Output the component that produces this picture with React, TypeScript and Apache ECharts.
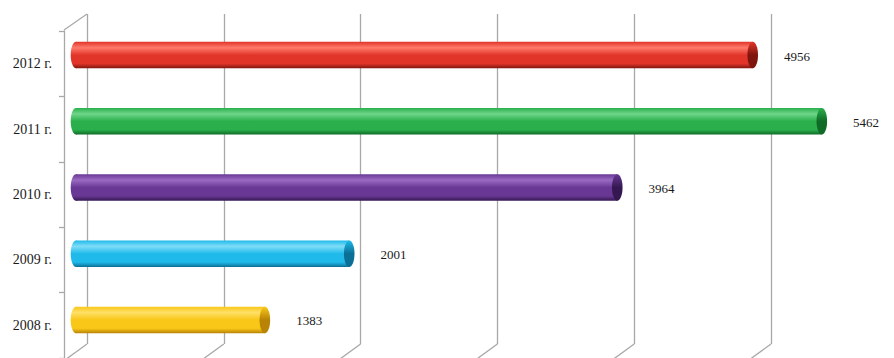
import React, { useEffect, useRef } from "react";
import * as echarts from "echarts";

const categories = ["2008 г.", "2009 г.", "2010 г.", "2011 г.", "2012 г."];
const values = [1383, 2001, 3964, 5462, 4956];
const gridTicks = [0, 1000, 2000, 3000, 4000, 5000];
const barColors = [
  { light: "#FFE066", base: "#F9C718", dark: "#B98306" },
  { light: "#7FDDF8", base: "#1FBAEA", dark: "#0B6F96" },
  { light: "#9A6BC2", base: "#683894", dark: "#351852" },
  { light: "#6FD68A", base: "#2AAF4C", dark: "#0F6B27" },
  { light: "#FF7A6A", base: "#E2352A", dark: "#7E150E" },
];

const FONT = "'Liberation Serif', 'Times New Roman', serif";
const GRID_COLOR = "#a8a8a8";

function cylGradient(c: { light: string; base: string; dark: string }) {
  return new echarts.graphic.LinearGradient(0, 0, 0, 1, [
    { offset: 0, color: c.base },
    { offset: 0.22, color: c.light },
    { offset: 0.5, color: c.base },
    { offset: 0.82, color: c.base },
    { offset: 1, color: c.dark },
  ]);
}

export default function App() {
  const ref = useRef<HTMLDivElement>(null);
  useEffect(() => {
    if (!ref.current) return;
    const chart = echarts.init(ref.current, null, { renderer: "svg" });
    const option: any = {
      animation: false,
      backgroundColor: "#ffffff",
      grid: [
        { left: 76, top: 22, width: 751, height: 331 },
        { left: 64, top: 31, width: 751, height: 331 },
        { left: 87, top: 14, width: 684, height: 330 },
      ],
      xAxis: [
        { gridIndex: 0, type: "value", min: 0, max: 5500, show: false },
        { gridIndex: 1, type: "value", min: 0, max: 5500, show: false },
        {
          gridIndex: 2,
          type: "value",
          min: 0,
          max: 5000,
          interval: 1000,
          axisLine: { show: false },
          axisTick: { show: false },
          axisLabel: { show: false },
          splitLine: { show: true, lineStyle: { color: GRID_COLOR, width: 1.3 } },
        },
      ],
      yAxis: [
        { gridIndex: 0, type: "category", data: categories, show: false },
        {
          gridIndex: 1,
          type: "category",
          data: categories,
          axisLine: { show: true, lineStyle: { color: GRID_COLOR, width: 1.3 } },
          axisTick: { show: true, length: 5, lineStyle: { color: GRID_COLOR, width: 1.3 } },
          axisLabel: {
            margin: 12,
            color: "#1a1a1a",
            fontFamily: FONT,
            fontSize: 14,
          },
          splitLine: { show: false },
        },
        { gridIndex: 2, type: "value", min: 0, max: 1, show: false },
      ],
      series: [
        {
          type: "custom",
          xAxisIndex: 2,
          yAxisIndex: 2,
          silent: true,
          clip: false,
          data: gridTicks.map((t) => [t]),
          renderItem: (params: any, api: any) => {
            const v = api.value(0);
            const b = api.coord([v, 0]);
            const t = api.coord([v, 1]);
            const style = { stroke: GRID_COLOR, lineWidth: 1.3, fill: null };
            const children: any[] = [
              {
                type: "polyline",
                shape: { points: [b, [b[0] - 22, b[1] + 16]] },
                style,
              },
            ];
            if (params.dataIndex === 0) {
              children.push({
                type: "polyline",
                shape: { points: [t, [t[0] - 23, t[1] + 16]] },
                style,
              });
            }
            return { type: "group", children };
          },
        },
        {
          type: "custom",
          xAxisIndex: 0,
          yAxisIndex: 0,
          clip: false,
          data: values.map((v, i) => [v, i]),
          renderItem: (params: any, api: any) => {
            const v = api.value(0);
            const cat = api.value(1);
            const s = api.coord([0, cat]);
            const e = api.coord([v, cat]);
            const band = api.size([0, 1])[1];
            const h = band * 0.4;
            const y = s[1] - h / 2;
            const rx = h * 0.2;
            const c = barColors[params.dataIndex];
            return {
              type: "group",
              children: [
                {
                  type: "ellipse",
                  shape: { cx: s[0], cy: s[1], rx, ry: h / 2 },
                  style: { fill: cylGradient(c) },
                },
                {
                  type: "rect",
                  shape: { x: s[0], y, width: e[0] - s[0], height: h },
                  style: { fill: cylGradient(c) },
                },
                {
                  type: "ellipse",
                  shape: { cx: e[0], cy: e[1], rx, ry: h / 2 },
                  style: {
                    fill: new echarts.graphic.LinearGradient(0, 0, 0, 1, [
                      { offset: 0, color: c.base },
                      { offset: 0.5, color: c.dark },
                      { offset: 1, color: c.dark },
                    ]),
                  },
                },
                {
                  type: "text",
                  style: {
                    text: String(v),
                    x: e[0] + rx + 26,
                    y: e[1] + 1,
                    fill: "#1a1a1a",
                    font: `13px ${FONT}`,
                    textVerticalAlign: "middle",
                    verticalAlign: "middle",
                  },
                },
              ],
            };
          },
        },
      ],
    };
    chart.setOption(option);
    return () => chart.dispose();
  }, []);
  return (
    <div
      ref={ref}
      style={{ position: "fixed", left: 0, top: 0, width: 894, height: 358 }}
    />
  );
}
